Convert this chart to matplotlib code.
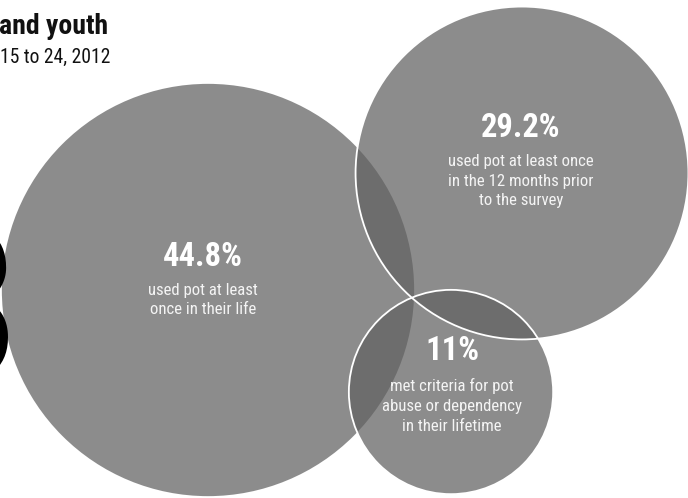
import matplotlib
matplotlib.use("Agg")
import numpy as np
import matplotlib.pyplot as plt
from matplotlib.patches import Circle
from matplotlib import font_manager

# share of 15-24 year olds, 2012
values = [44.8, 29.2, 11.0]
value_labels = ["44.8%", "29.2%", "11%"]
descriptions = [
    "used pot at least\nonce in their life",
    "used pot at least once\nin the 12 months prior\nto the survey",
    "met criteria for pot\nabuse or dependency\nin their lifetime",
]
title = "and youth"
subtitle = "15 to 24, 2012"

# layout in pixel space
centers = [(208, 290), (522, 173), (451, 392)]
scale = 30.8   # px of radius per sqrt(percent)
label_x = [203, 521, 452]
label_y = [257, 128, 351]
desc_y = [300, 181, 406]

names = {f.name for f in font_manager.fontManager.ttflist}
wanted = ["Roboto Condensed", "Liberation Sans Narrow", "Roboto"]
FONT = [n for n in wanted if n in names] + ["DejaVu Sans"]

fig = plt.figure(figsize=(6.88, 4.98), dpi=100)
ax = fig.add_axes([0, 0, 1, 1])
ax.set_xlim(0, 688)
ax.set_ylim(498, 0)
ax.axis("off")

radii = [scale * np.sqrt(v) for v in values]

for (cx, cy), r in zip(centers, radii):
    ax.add_patch(Circle((cx, cy), r, facecolor="#626262", edgecolor="none",
                        alpha=0.73, zorder=2))

# white rims on the two smaller circles
for (cx, cy), r in list(zip(centers, radii))[1:]:
    ax.add_patch(Circle((cx, cy), r, facecolor="none", edgecolor="white",
                        linewidth=1.3, zorder=3))

# edge of the big headline number
ax.text(18, 321, "3", fontsize=156, fontweight="bold", color="black",
        ha="right", va="center", family=FONT, zorder=4)

for lx, lab, ly, desc, dy in zip(label_x, value_labels, label_y,
                                 descriptions, desc_y):
    ax.text(lx, ly, lab, fontsize=23.5, fontweight="bold", color="white",
            ha="center", va="center", family=FONT, zorder=5)
    ax.text(lx, dy, desc, fontsize=12.1, color="#f4f4f4", ha="center",
            va="center", family=FONT, linespacing=1.38, zorder=5)

ax.text(-1, 26, title, fontsize=20, fontweight="bold", color="#111111",
        ha="left", va="center", family=FONT)
ax.text(0, 57, subtitle, fontsize=14.1, color="#111111", ha="left",
        va="center", family=FONT)

fig.savefig("out.png", dpi=100, facecolor="white")
